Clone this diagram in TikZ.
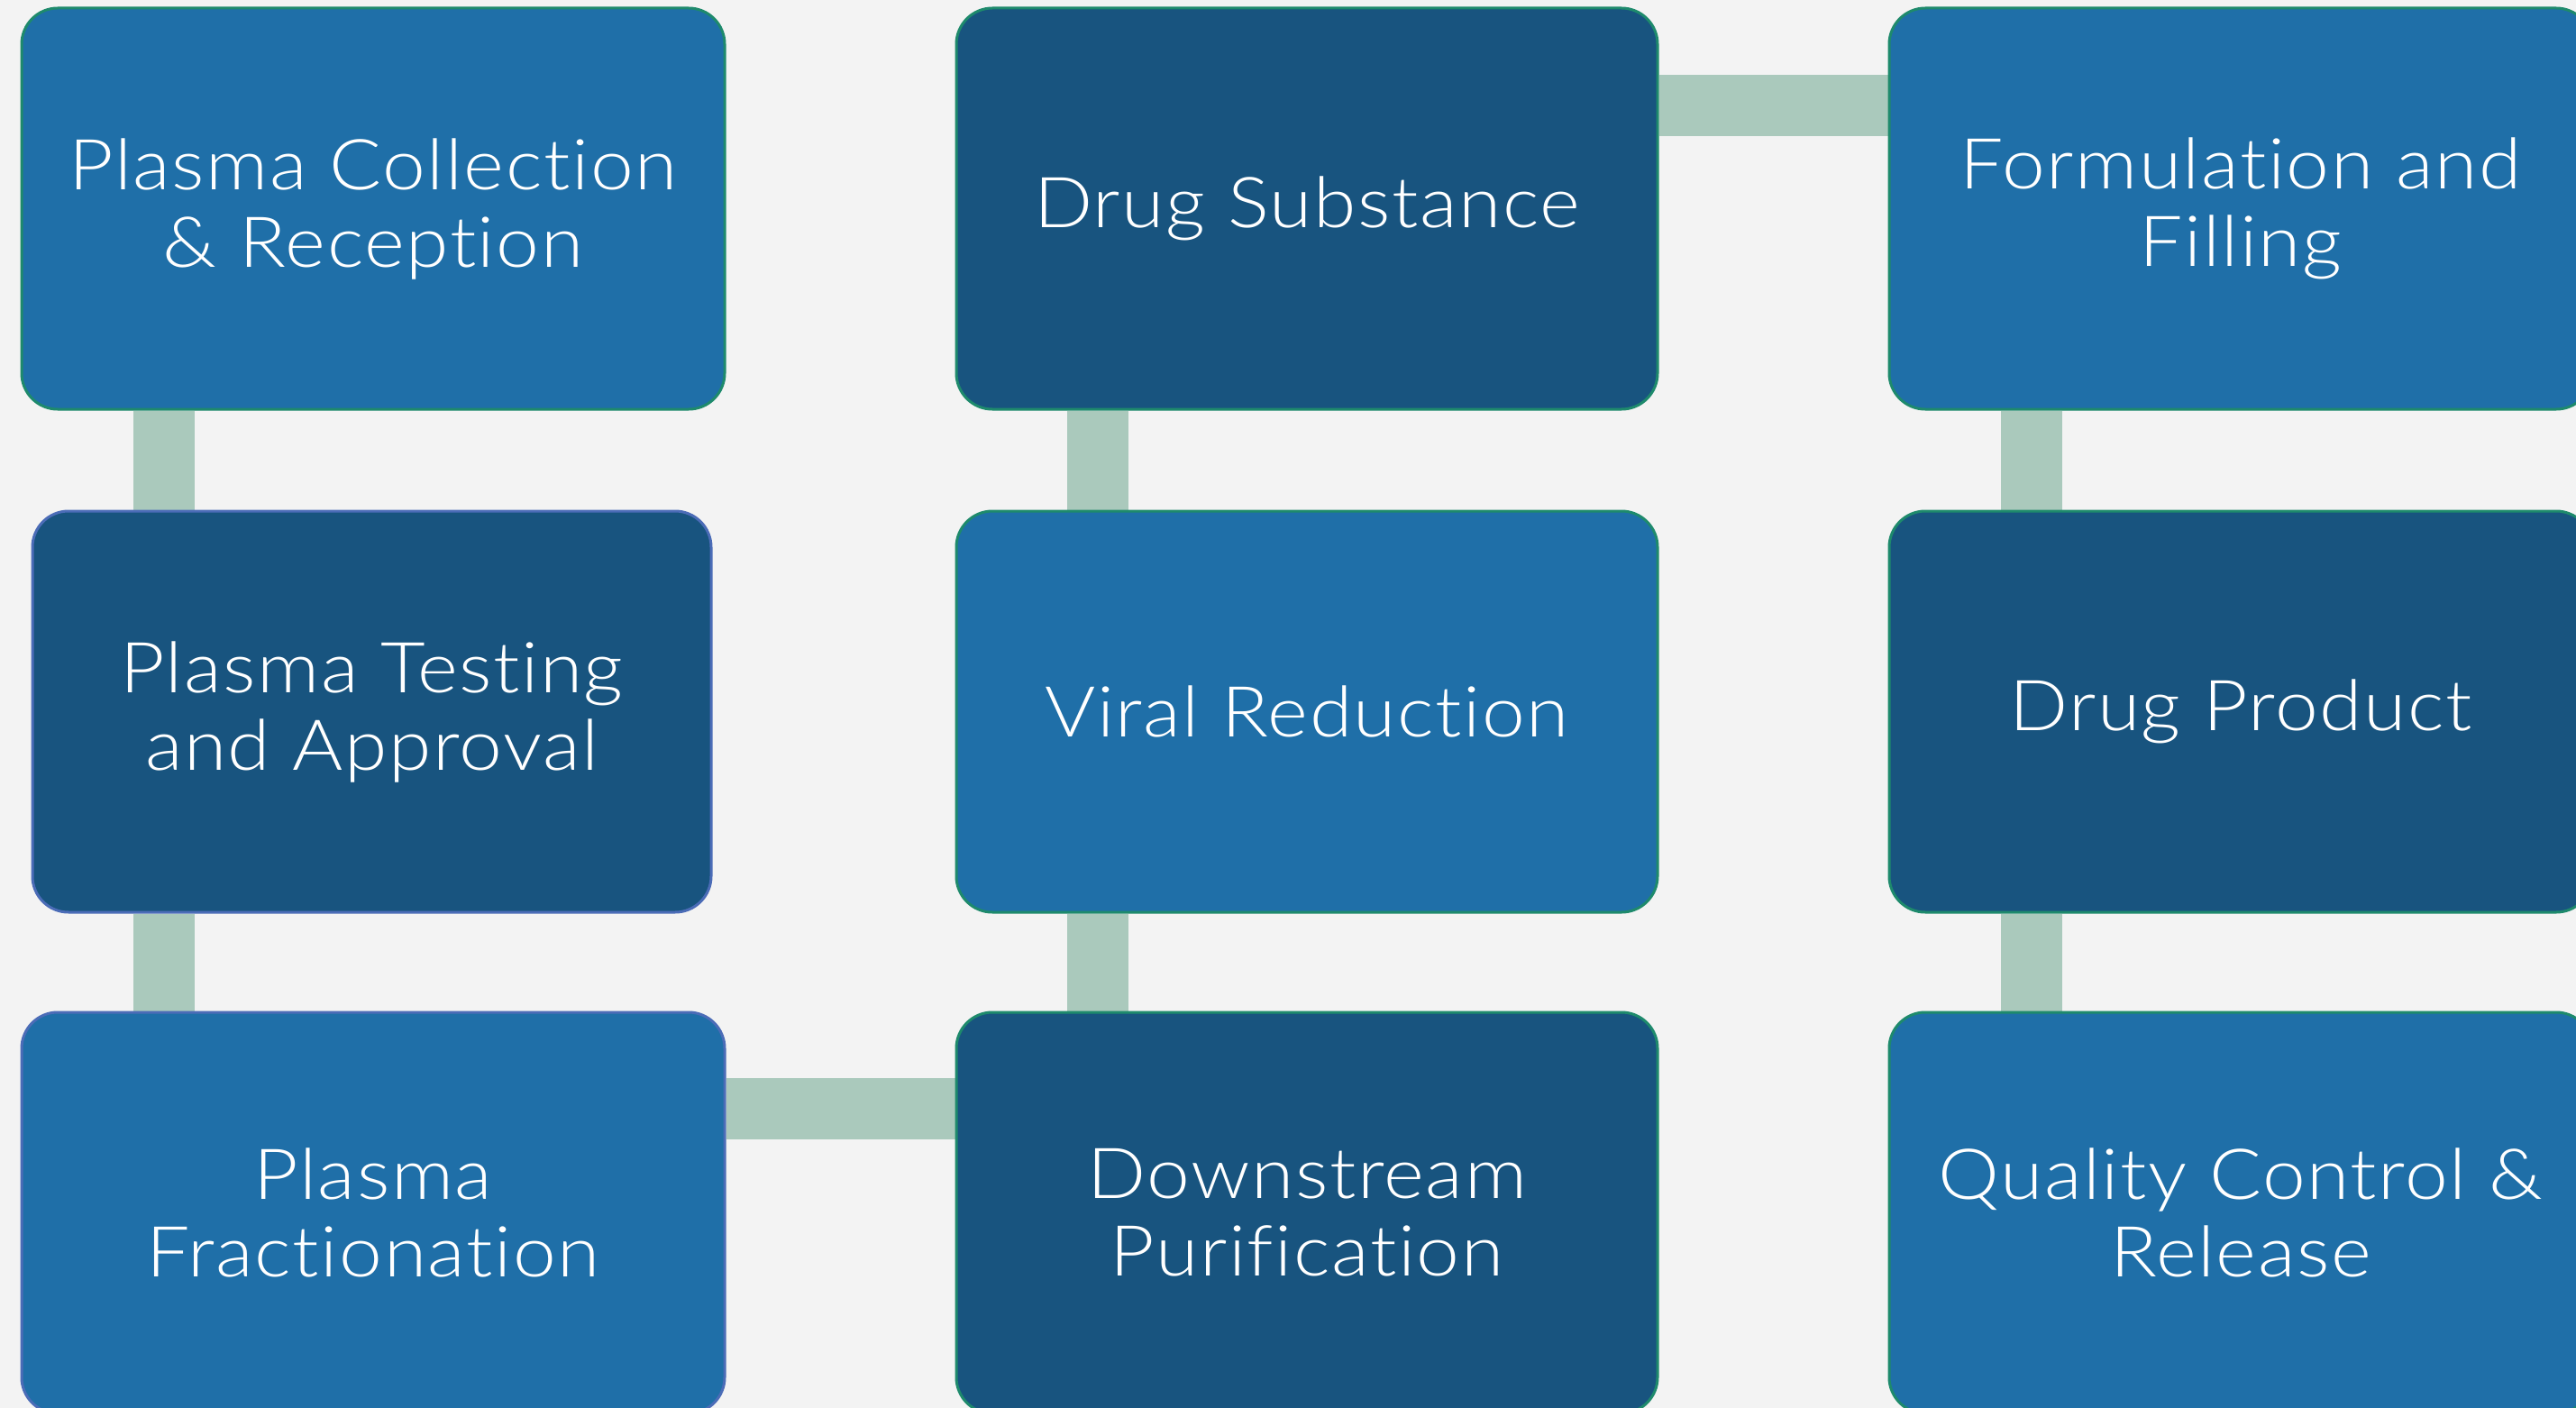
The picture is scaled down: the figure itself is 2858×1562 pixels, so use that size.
\documentclass[tikz,border=0pt]{standalone}
\usepackage{fontspec}
\setmainfont{Lato}[UprightFont={* Light}, Ligatures=NoCommon, FakeStretch=1.1, LetterSpace=2]
\usetikzlibrary{backgrounds}
\definecolor{bgc}{RGB}{243,243,243}
\definecolor{lightb}{RGB}{31,111,168}
\definecolor{darkb}{RGB}{24,84,127}
\definecolor{connc}{RGB}{170,201,188}
\definecolor{greenb}{RGB}{30,138,108}
\definecolor{purpb}{RGB}{75,108,183}
\begin{document}
\begin{tikzpicture}[x=0.5pt,y=-0.5pt,
  stepbox/.style={rectangle, rounded corners=20pt, line width=1.5pt, draw=greenb,
    minimum width=390pt, minimum height=222.5pt, inner sep=0pt, align=center,
    text=white, font=\fontsize{39}{43}\selectfont},
  lightbox/.style={stepbox, fill=lightb},
  darkbox/.style={stepbox, fill=darkb},
  conn/.style={draw=connc, line width=34pt, line cap=butt}]
\useasboundingbox (0,0) rectangle (2858,1562);

\node[lightbox] (b1) at (414,231.5) {Plasma Collection\\\& Reception};
\node[darkbox, draw=purpb, minimum width=376.5pt] (b2) at (412.5,789.5) {Plasma Testing\\and Approval};
\node[lightbox, draw=purpb] (b3) at (414,1345.5) {Plasma\\Fractionation};

\node[darkbox, minimum width=389pt] (m1) at (1450,231.5) {Drug Substance};
\node[lightbox, minimum width=389pt] (m2) at (1450,789.5) {Viral Reduction};
\node[darkbox, minimum width=389pt] (m3) at (1450,1345.5) {Downstream\\Purification};

\node[lightbox] (r1) at (2486,231.5) {Formulation and\\Filling};
\node[darkbox] (r2) at (2486,789.5) {Drug Product};
\node[lightbox] (r3) at (2486,1345.5) {Quality Control \&\\Release};

\coordinate (lx) at (181.5,0);
\coordinate (mx) at (1218,0);
\coordinate (rx) at (2254,0);
\coordinate (ty) at (0,117);
\coordinate (by) at (0,1230);

\begin{scope}[on background layer]
\fill[bgc] (0,0) rectangle (2858,1562);
\draw[conn] (b1.south -| lx) -- (b2.north -| lx);
\draw[conn] (b2.south -| lx) -- (b3.north -| lx);
\draw[conn] (b3.east |- by) -- (m3.west |- by);
\draw[conn] (m3.north -| mx) -- (m2.south -| mx);
\draw[conn] (m2.north -| mx) -- (m1.south -| mx);
\draw[conn] (m1.east |- ty) -- (r1.west |- ty);
\draw[conn] (r1.south -| rx) -- (r2.north -| rx);
\draw[conn] (r2.south -| rx) -- (r3.north -| rx);
\end{scope}
\end{tikzpicture}
\end{document}
